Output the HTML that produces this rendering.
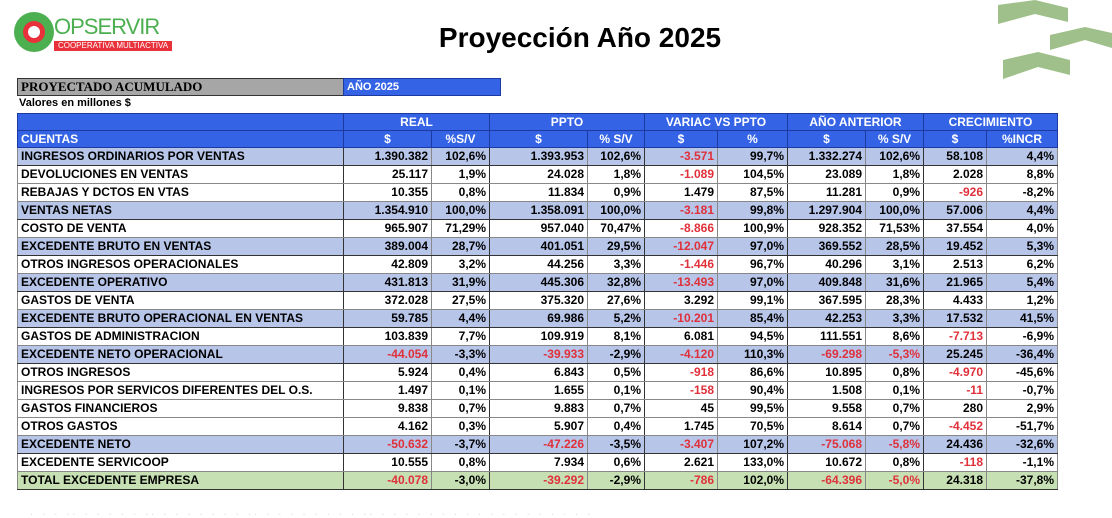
<!DOCTYPE html>
<html><head><meta charset="utf-8">
<style>
body{margin:0;width:1112px;height:518px;background:#fff;position:relative;overflow:hidden;font-family:"Liberation Sans",Arial,sans-serif}
.abs{position:absolute}
table{border-collapse:collapse;table-layout:fixed;position:absolute;left:17px;top:113px;font-weight:bold;font-size:12px}
td{height:17px;padding:0 3px;border:1px solid #888;white-space:nowrap;overflow:hidden;text-align:right;line-height:17px}
tr.h td{height:16px;line-height:16px}
td.l{text-align:left}
tr.h td{background:#3463e6;color:#fff;text-align:center;border-color:#1d3aa0}
tr.h td.l{text-align:left}
tr.b td{background:#b7c5e8;border-top-color:#333;border-bottom-color:#333}
tr.g td{background:#c6dfb3;border-top-color:#333;border-bottom-color:#333}
td.r{color:#e0303a}
td.tk{border-right-color:#333}
</style></head><body>
<div class="abs" style="left:14px;top:10px;width:170px;height:45px">
 <div class="abs" style="left:0;top:2px;width:40px;height:40px;border-radius:50%;background:#4caf50"></div>
 <div class="abs" style="left:9px;top:11px;width:22px;height:22px;border-radius:50%;background:#e8313a"></div>
 <div class="abs" style="left:14px;top:16px;width:12px;height:12px;border-radius:50%;background:#fff"></div>
 <div class="abs" style="left:40px;top:4px;font-size:22px;color:#4caf50;letter-spacing:-1px">OPSERVIR</div>
 <div class="abs" style="left:40px;top:31px;width:118px;height:10px;background:#e8313a;color:#fff;font-size:8px;line-height:10px;text-align:center">COOPERATIVA MULTIACTIVA</div>
</div>
<div class="abs" style="left:380px;top:22px;width:400px;text-align:center;font-size:28px;font-weight:bold">Proyección Año 2025</div>
<svg class="abs" style="left:990px;top:0" width="122" height="82">
 <polygon points="8,5 45,0 78,8 78,22 45,14 8,24" fill="#9fc08a"/>
 <polygon points="60,35 95,27 122,33 122,48 95,40 60,50" fill="#9fc08a"/>
 <polygon points="13,60 48,52 80,60 80,75 48,67 13,79" fill="#9fc08a"/>
</svg>
<div class="abs" style="left:17px;top:78px;width:324px;height:16px;background:#a6a6a6;border:1px solid #333;font-family:'Liberation Serif',serif;font-weight:bold;font-size:13px;line-height:16px;padding-left:3px">PROYECTADO ACUMULADO</div>
<div class="abs" style="left:343px;top:78px;width:153px;height:16px;background:#3463e6;border:1px solid #1d3aa0;color:#fff;font-weight:bold;font-size:11px;line-height:16px;padding-left:3px">AÑO 2025</div>
<div class="abs" style="left:19px;top:97px;font-size:11px;font-weight:bold">Valores en millones $</div>
<table id="t">
<colgroup><col style="width:326px"><col style="width:88px"><col style="width:58px"><col style="width:98px"><col style="width:57px"><col style="width:73px"><col style="width:70px"><col style="width:78px"><col style="width:58px"><col style="width:63px"><col style="width:71px"></colgroup>
<tr class="h"><td class="l tk"></td><td colspan="2" class="tk">REAL</td><td colspan="2" class="tk">PPTO</td><td colspan="2" class="tk">VARIAC VS PPTO</td><td colspan="2" class="tk">AÑO ANTERIOR</td><td colspan="2">CRECIMIENTO</td></tr>
<tr class="h"><td class="l tk">CUENTAS</td><td>$</td><td class="tk">%S/V</td><td>$</td><td class="tk">% S/V</td><td>$</td><td class="tk">%</td><td>$</td><td class="tk">% S/V</td><td>$</td><td>%INCR</td></tr>
</table>
<div class="abs" style="left:30px;top:506px;width:1050px;font-size:11px;color:#ddd;letter-spacing:3px">. . . .. . . . . . .. . . . . . . . .. . . . . . . . . .. . . . . . . . . . . . . . . . . . .</div>
<script>
const rows=[
["INGRESOS ORDINARIOS POR VENTAS","b","1.390.382","102,6%","1.393.953","102,6%","-3.571","99,7%","1.332.274","102,6%","58.108","4,4%"],
["DEVOLUCIONES EN VENTAS","","25.117","1,9%","24.028","1,8%","-1.089","104,5%","23.089","1,8%","2.028","8,8%"],
["REBAJAS Y DCTOS EN VTAS","","10.355","0,8%","11.834","0,9%","1.479","87,5%","11.281","0,9%","-926","-8,2%"],
["VENTAS NETAS","b","1.354.910","100,0%","1.358.091","100,0%","-3.181","99,8%","1.297.904","100,0%","57.006","4,4%"],
["COSTO DE VENTA","","965.907","71,29%","957.040","70,47%","-8.866","100,9%","928.352","71,53%","37.554","4,0%"],
["EXCEDENTE BRUTO EN VENTAS","b","389.004","28,7%","401.051","29,5%","-12.047","97,0%","369.552","28,5%","19.452","5,3%"],
["OTROS INGRESOS OPERACIONALES","","42.809","3,2%","44.256","3,3%","-1.446","96,7%","40.296","3,1%","2.513","6,2%"],
["EXCEDENTE OPERATIVO","b","431.813","31,9%","445.306","32,8%","-13.493","97,0%","409.848","31,6%","21.965","5,4%"],
["GASTOS DE VENTA","","372.028","27,5%","375.320","27,6%","3.292","99,1%","367.595","28,3%","4.433","1,2%"],
["EXCEDENTE BRUTO OPERACIONAL EN VENTAS","b","59.785","4,4%","69.986","5,2%","-10.201","85,4%","42.253","3,3%","17.532","41,5%"],
["GASTOS DE ADMINISTRACION","","103.839","7,7%","109.919","8,1%","6.081","94,5%","111.551","8,6%","-7.713","-6,9%"],
["EXCEDENTE NETO OPERACIONAL","b","-44.054","-3,3%","-39.933","-2,9%","-4.120","110,3%","-69.298","-5,3%","25.245","-36,4%"],
["OTROS INGRESOS","","5.924","0,4%","6.843","0,5%","-918","86,6%","10.895","0,8%","-4.970","-45,6%"],
["INGRESOS POR SERVICOS DIFERENTES DEL O.S.","","1.497","0,1%","1.655","0,1%","-158","90,4%","1.508","0,1%","-11","-0,7%"],
["GASTOS FINANCIEROS","","9.838","0,7%","9.883","0,7%","45","99,5%","9.558","0,7%","280","2,9%"],
["OTROS GASTOS","","4.162","0,3%","5.907","0,4%","1.745","70,5%","8.614","0,7%","-4.452","-51,7%"],
["EXCEDENTE NETO","b","-50.632","-3,7%","-47.226","-3,5%","-3.407","107,2%","-75.068","-5,8%","24.436","-32,6%"],
["EXCEDENTE SERVICOOP","","10.555","0,8%","7.934","0,6%","2.621","133,0%","10.672","0,8%","-118","-1,1%"],
["TOTAL EXCEDENTE EMPRESA","g","-40.078","-3,0%","-39.292","-2,9%","-786","102,0%","-64.396","-5,0%","24.318","-37,8%"]];
const t=document.getElementById('t');
const redCols=[0,2,4,6,7,8];
rows.forEach(r=>{
 const tr=document.createElement('tr');
 tr.className=r[1];
 
 
 const c0=document.createElement('td');c0.className='l tk';c0.textContent=r[0];tr.appendChild(c0);
 for(let i=0;i<10;i++){
  const td=document.createElement('td');
  const v=r[i+2];td.textContent=v;
  let cls=[];
  if(i%2===1&&i<9)cls.push('tk');
  if(v[0]==='-'&&redCols.includes(i))cls.push('r');
  td.className=cls.join(' ');
  tr.appendChild(td);
 }
 t.appendChild(tr);
});
</script>
</body></html>
